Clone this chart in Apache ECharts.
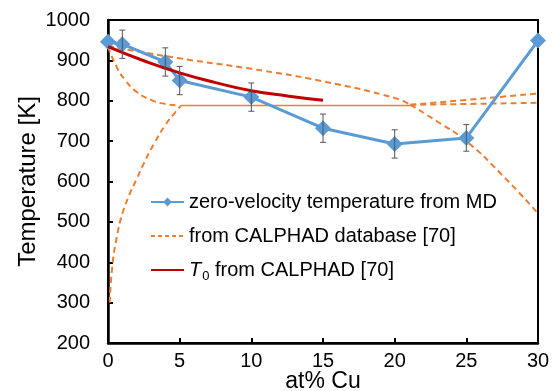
<!DOCTYPE html>
<html>
<head>
<meta charset="utf-8">
<script src="https://cdn.jsdelivr.net/npm/echarts@6/dist/echarts.min.js"></script>
<style>
  html, body { margin: 0; padding: 0; background: #fff; }
  #chart { width: 553px; height: 391px; }
</style>
</head>
<body>
<div id="chart"></div>
<script>
// zero-velocity temperature from MD
const mdX = [0, 1, 4, 5, 10, 15, 20, 25, 30];
const mdT = [946, 940, 896, 850, 809, 732, 693, 708, 949];
const mdErr = [0, 35, 35, 35, 35, 35, 35, 33, 0];

// T0 from CALPHAD
const t0X = [0, 2.5, 5, 7.5, 10, 12.5, 15];
const t0T = [934, 899, 869, 845, 825, 812, 801];

// CALPHAD database curves
const upperX = [0, 5, 10, 15, 20, 21.1];
const upperT = [935, 905, 879, 848, 807, 790];
const fallX = [21.1, 23, 25, 27.5, 30];
const fallT = [790, 748, 700, 616, 521];
const liqX = [0, 0.6, 1.2, 2, 3, 4, 5];
const liqT = [934, 884, 851, 822, 802, 792, 788];
const solX = [0.12, 0.3, 0.6, 1, 1.5, 2, 2.5, 3.2, 4, 4.7, 5.1];
const solT = [300, 390, 460, 520, 568, 606, 645, 693, 740, 772, 788];
const flatX = [5.1, 21.1];
const flatT = [788, 788];
const rightAX = [21.1, 25, 27.5, 30];
const rightAT = [790, 802, 810, 818];
const rightBX = [21.1, 25, 30];
const rightBT = [790, 792, 795];

const xTicks = [0, 5, 10, 15, 20, 25, 30];
const yTicks = [200, 300, 400, 500, 600, 700, 800, 900, 1000];

const MD_NAME = "zero-velocity temperature from MD";
const CAL_NAME = "from CALPHAD database [70]";
const T0_NAME = "T0 from CALPHAD [70]";
const FONT = "'Liberation Sans', Arial, sans-serif";
const ORANGE = "#ED7D31";

const pairs = (xs, ys) => xs.map((x, i) => [x, ys[i]]);

function dashed(xs, ys, name) {
  return {
    name: name,
    type: "line",
    data: pairs(xs, ys),
    smooth: true,
    symbol: "none",
    z: 2,
    lineStyle: { color: ORANGE, width: 2, type: [6, 4] },
    itemStyle: { color: ORANGE },
  };
}

const errData = mdX
  .map((x, i) => [x, mdT[i] - mdErr[i], mdT[i] + mdErr[i]])
  .filter((d, i) => mdErr[i] > 0);

const chart = echarts.init(document.getElementById("chart"));
chart.setOption({
  animation: false,
  textStyle: { fontFamily: FONT },
  grid: {
    left: 108, right: 15, top: 20, bottom: 48,
    outerBoundsMode: "none",
    containLabel: false,
    show: true, borderColor: "#000", borderWidth: 2,
  },
  xAxis: {
    type: "value",
    min: xTicks[0], max: xTicks[xTicks.length - 1], interval: 5,
    name: "at% Cu",
    nameLocation: "middle",
    nameMoveOverlap: false,
    nameGap: 27,
    nameTextStyle: { fontSize: 23, color: "#000", fontFamily: FONT },
    axisLine: { lineStyle: { color: "#000", width: 2.5 } },
    axisTick: { inside: true, length: 5, lineStyle: { color: "#000", width: 2 } },
    axisLabel: { fontSize: 20, color: "#000", margin: 8, fontFamily: FONT },
    splitLine: { show: false },
  },
  yAxis: {
    type: "value",
    min: yTicks[0], max: yTicks[yTicks.length - 1], interval: 100,
    name: "Temperature [K]",
    nameLocation: "middle",
    nameMoveOverlap: false,
    nameGap: 68,
    nameTextStyle: { fontSize: 24, color: "#000", fontFamily: FONT },
    axisLine: { lineStyle: { color: "#000", width: 2.5 } },
    axisTick: { inside: true, length: 5, lineStyle: { color: "#000", width: 2 } },
    axisLabel: { fontSize: 20, color: "#000", margin: 18, fontFamily: FONT, formatter: (v) => String(v) },
    splitLine: { show: false },
  },
  legend: {
    data: [
      { name: MD_NAME },
      { name: CAL_NAME, itemStyle: { opacity: 0 }, lineStyle: { type: [4, 3] } },
      { name: T0_NAME, itemStyle: { opacity: 0 } },
    ],
    orient: "vertical",
    left: 145,
    top: 187,
    itemGap: 14,
    itemWidth: 33,
    itemHeight: 11,
    textStyle: {
      fontSize: 20,
      color: "#000",
      fontFamily: FONT,
      rich: {
        it: { fontStyle: "italic", fontSize: 20, fontFamily: FONT, color: "#000" },
        sub: { fontSize: 13, fontFamily: FONT, color: "#000", padding: [12, 0, 0, 1] },
        n: { fontSize: 20, fontFamily: FONT, color: "#000" },
      },
    },
    formatter: (n) => (n === T0_NAME ? "{it|T}{sub|0}{n| from CALPHAD [70]}" : n),
  },
  series: [
    dashed(upperX, upperT, CAL_NAME),
    dashed(fallX, fallT, CAL_NAME),
    dashed(liqX, liqT, CAL_NAME),
    dashed(solX, solT, CAL_NAME),
    dashed(rightAX, rightAT, CAL_NAME),
    dashed(rightBX, rightBT, CAL_NAME),
    {
      name: "eutectic",
      type: "line",
      data: pairs(flatX, flatT),
      symbol: "none",
      z: 2,
      lineStyle: { color: ORANGE, width: 1.5 },
    },
    {
      name: MD_NAME,
      type: "line",
      data: pairs(mdX, mdT),
      symbol: "diamond",
      symbolSize: 16,
      z: 3,
      lineStyle: { color: "#5B9BD5", width: 3 },
      itemStyle: { color: "#5B9BD5" },
    },
    {
      name: "err",
      type: "custom",
      z: 5,
      data: errData,
      renderItem: (params, api) => {
        const x = api.value(0);
        const lo = api.coord([x, api.value(1)]);
        const hi = api.coord([x, api.value(2)]);
        const st = { stroke: "#555", lineWidth: 1 };
        return {
          type: "group",
          children: [
            { type: "line", shape: { x1: lo[0], y1: lo[1], x2: hi[0], y2: hi[1] }, style: st },
            { type: "line", shape: { x1: lo[0] - 3, y1: lo[1], x2: lo[0] + 3, y2: lo[1] }, style: st },
            { type: "line", shape: { x1: hi[0] - 3, y1: hi[1], x2: hi[0] + 3, y2: hi[1] }, style: st },
          ],
        };
      },
    },
    {
      name: T0_NAME,
      type: "line",
      data: pairs(t0X, t0T),
      smooth: true,
      symbol: "none",
      z: 4,
      lineStyle: { color: "#C00000", width: 3 },
      itemStyle: { color: "#C00000" },
    },
  ],
});
</script>
</body>
</html>
